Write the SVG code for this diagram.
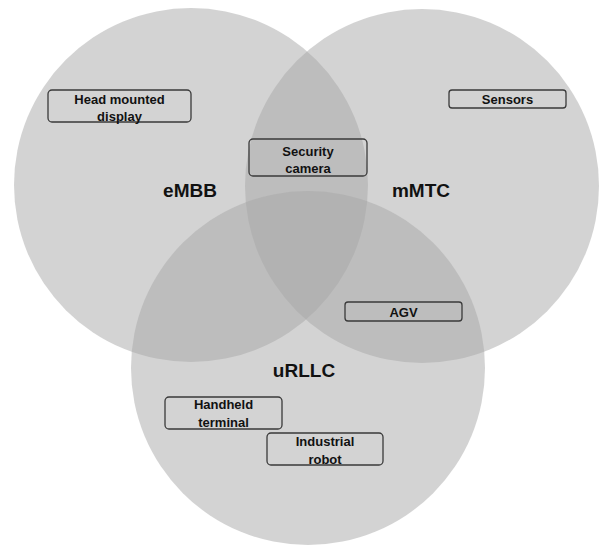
<svg xmlns="http://www.w3.org/2000/svg" width="600" height="548" viewBox="0 0 600 548">
<style>
.c{fill:#a7a7a7;fill-opacity:0.5}
.b{fill:none;stroke:#3a3a3a;stroke-width:1.3}
.t{font-family:"Liberation Sans",Arial,sans-serif;font-weight:bold;font-size:13px;fill:#111;text-anchor:middle}
.L{font-family:"Liberation Sans",Arial,sans-serif;font-weight:bold;font-size:19px;fill:#111;text-anchor:middle}
</style>
<rect width="600" height="548" fill="#fff"/>
<g id="eMBB"><circle class="c" cx="191" cy="185" r="177"/><text class="L" x="190" y="197">eMBB</text></g>
<g id="mMTC"><circle class="c" cx="422" cy="186" r="177"/><text class="L" x="421" y="197">mMTC</text></g>
<g id="uRLLC"><circle class="c" cx="308" cy="368" r="177"/><text class="L" x="304" y="377">uRLLC</text></g>
<g id="connectors"></g>
<g id="hmd"><rect class="b" x="48" y="90" width="143" height="32" rx="4"/><text class="t" x="119.5" y="103.5">Head mounted</text><text class="t" x="119.5" y="121">display</text></g>
<g id="sensors"><rect class="b" x="449" y="90" width="117" height="18" rx="3"/><text class="t" x="507.5" y="103.5">Sensors</text></g>
<g id="security"><rect class="b" x="249" y="139" width="118" height="37" rx="4"/><text class="t" x="308" y="155.5">Security</text><text class="t" x="308" y="172.5">camera</text></g>
<g id="agv"><rect class="b" x="345" y="302" width="117" height="19" rx="3"/><text class="t" x="403.5" y="316.5">AGV</text></g>
<g id="handheld"><rect class="b" x="165" y="397" width="117" height="32" rx="4"/><text class="t" x="223.5" y="408.5">Handheld</text><text class="t" x="223.5" y="426.5">terminal</text></g>
<g id="robot"><rect class="b" x="267" y="433" width="116" height="32" rx="4"/><text class="t" x="325" y="445.5">Industrial</text><text class="t" x="325" y="463.5">robot</text></g>
</svg>
